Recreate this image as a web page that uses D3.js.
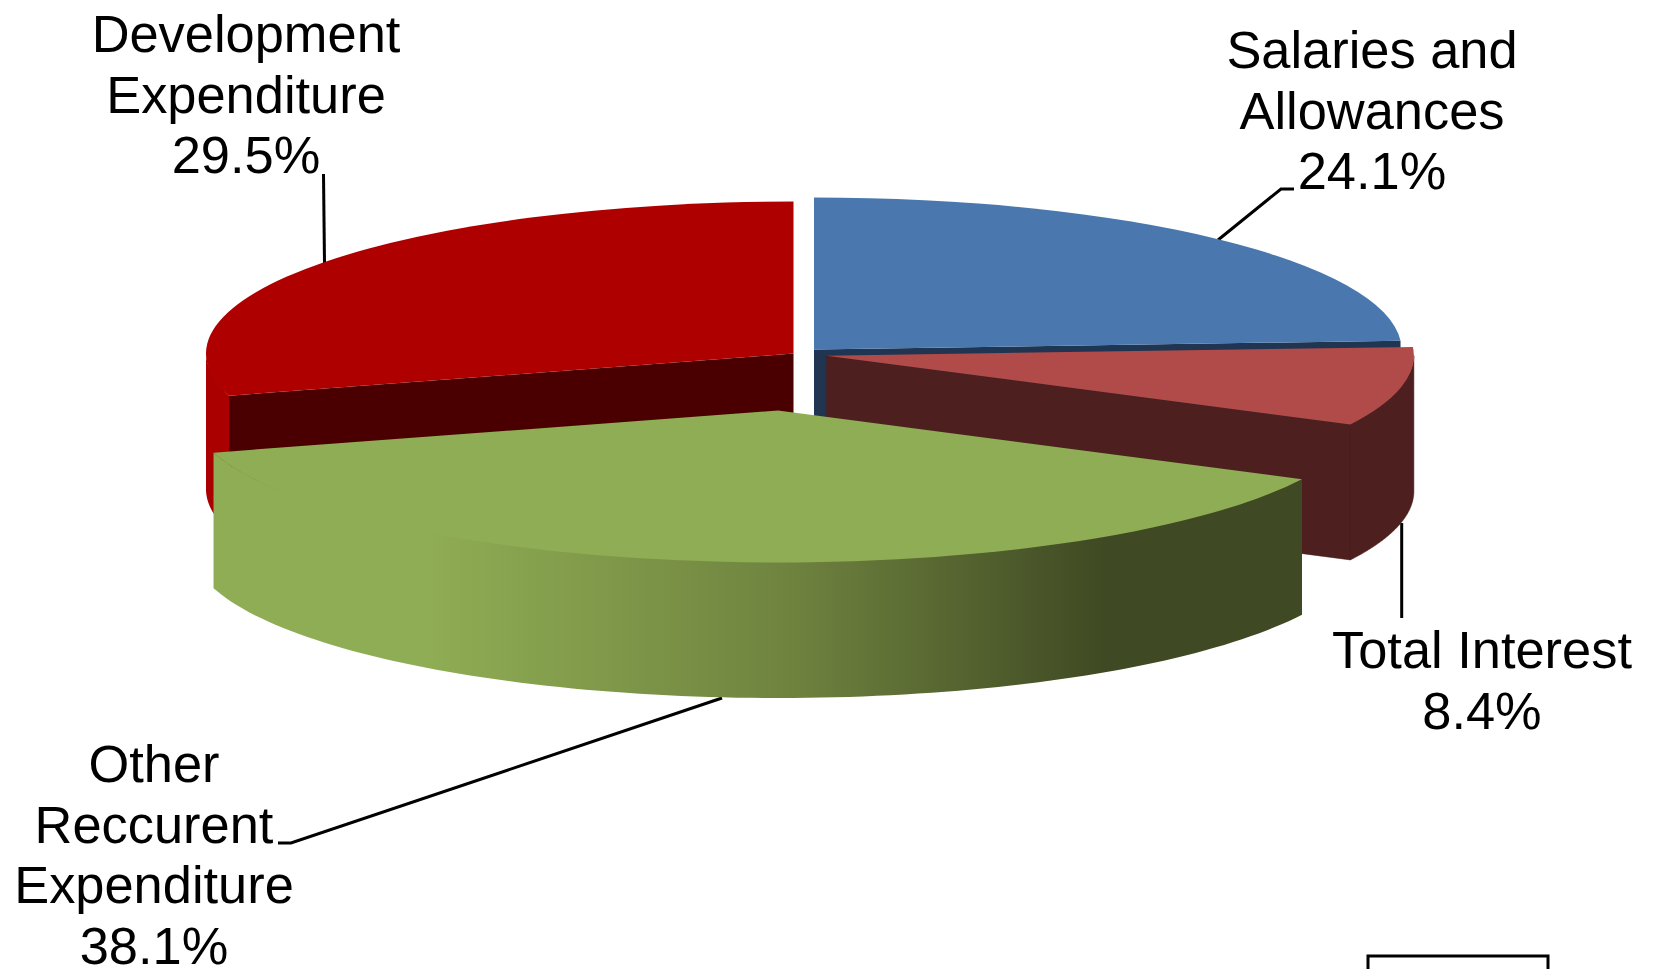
<!DOCTYPE html>
<html>
<head>
<meta charset="utf-8">
<script src="https://cdnjs.cloudflare.com/ajax/libs/d3/7.8.5/d3.min.js"></script>
<style>
  html, body { margin: 0; padding: 0; background: #fff; overflow: hidden; }
  svg { display: block; }
  text { font-family: "Liberation Sans", Arial, sans-serif; font-size: 52.4px; fill: #000; text-anchor: middle; }
</style>
</head>
<body>
<svg id="chart" width="1655" height="969"></svg>
<script>
// chart values, in the clockwise order of the pie
var categories = ["Salaries and Allowances", "Total Interest", "Other Reccurent Expenditure", "Development Expenditure"];
var shares = [24.1, 8.4, 38.1, 29.5];

// colours of the top faces, the cut faces and the outer walls
var topColors = ["#4a78ae", "#b14b49", "#8fad54", "#af0000"];
var cutColors = ["#1f3552", "#4d1f1f", "none", "#4a0000"];
var wallColors = ["#1f3552", "#4d1f1f", "url(#greenWall)", "#aa0000"];

// label lines, same order as the categories
var labelLines = [
    ["Salaries and", "Allowances", "24.1%"],
    ["Total Interest", "8.4%"],
    ["Other", "Reccurent", "Expenditure", "38.1%"],
    ["Development", "Expenditure", "29.5%"]
];

// layout: every slice has its own centre because the pie is exploded
var centers = [[814, 349.5], [826.4, 355.7], [778, 410.5], [793.5, 353.6]];
var labelPos = [[1372, 68], [1482, 668], [154, 782], [246, 52]];
var leaders = [
    [[1294, 189], [1281, 189], [1218, 240]],
    [[1401.7, 523], [1401.7, 618]],
    [[278, 843], [291, 843], [722, 698]],
    [[323.5, 174], [324.5, 263]]
];
var rx = 587.5, ry = 152, depth = 135.5;
var lineHeight = 60.7;

var svg = d3.select("#chart");

var grad = svg.append("defs").append("linearGradient")
    .attr("id", "greenWall")
    .attr("gradientUnits", "userSpaceOnUse")
    .attr("x1", 211).attr("x2", 1302)
    .attr("y1", 0).attr("y2", 0);
[[0, "#8fad54"], [0.2, "#8fad54"], [0.53, "#6f833f"], [0.82, "#3f4923"], [1, "#3f4923"]].forEach(function(s) {
    grad.append("stop").attr("offset", s[0]).attr("stop-color", s[1]);
});

var pie = d3.pie().sort(null);
var arcs = pie(shares);

var topArc = d3.arc().innerRadius(0).outerRadius(rx);
var line = d3.line();

// point on the rim of a slice for a pie angle
function rim(c, a, dy) {
    return [c[0] + rx * Math.sin(a), c[1] - ry * Math.cos(a) + dy];
}

function wallPath(c, a0, a1) {
    var steps = d3.range(0, 101);
    // upper edge tucked under the top face in the middle so no seam shows
    var upper = steps.map(function(i) {
        return rim(c, a0 + (a1 - a0) * i / 100, -2 * Math.sin(Math.PI * i / 100));
    });
    var lower = steps.slice().reverse().map(function(i) {
        return rim(c, a0 + (a1 - a0) * i / 100, depth);
    });
    return line(upper.concat(lower)) + "Z";
}

function cutPath(c, a) {
    var p = rim(c, a, 0);
    return line([c, p, [p[0], p[1] + depth], [c[0], c[1] + depth]]) + "Z";
}

// leader lines go under the pie
svg.selectAll(".leader")
    .data(leaders)
    .enter().append("path")
    .attr("class", "leader")
    .attr("d", function(d) { return line(d); })
    .attr("fill", "none")
    .attr("stroke", "#000")
    .attr("stroke-width", 3);

// back to front: development, salaries, interest, other
var drawOrder = [3, 0, 1, 2];
drawOrder.forEach(function(i) {
    var c = centers[i], d = arcs[i];
    var g = svg.append("g").attr("class", "slice");
    var a0 = d.startAngle, a1 = d.endAngle;

    if (i === 0) {
        // only the cut under the arc end and the left cut show
        g.append("path").attr("d", cutPath(c, a1) + cutPath(c, a0)).attr("fill", cutColors[i]);
    } else if (i === 1) {
        // wall and cut share a colour, stroke hides the joint
        g.append("path").attr("d", wallPath(c, Math.PI / 2, a1) + cutPath(c, a1)).attr("fill", wallColors[i])
            .attr("stroke", wallColors[i]).attr("stroke-width", 0.5);
    } else if (i === 2) {
        g.append("path").attr("d", wallPath(c, a0, a1)).attr("fill", wallColors[i]);
    } else {
        g.append("path").attr("d", wallPath(c, a0, Math.PI * 1.5)).attr("fill", wallColors[i]);
        g.append("path").attr("d", cutPath(c, a0)).attr("fill", cutColors[i]);
    }

    g.append("path")
        .attr("transform", "translate(" + c[0] + "," + c[1] + ") scale(1," + (ry / rx) + ")")
        .attr("d", topArc(d))
        .attr("fill", topColors[i]);
});

// labels
labelLines.forEach(function(lines, i) {
    var t = svg.append("text")
        .attr("x", labelPos[i][0])
        .attr("y", labelPos[i][1]);
    lines.forEach(function(s, j) {
        t.append("tspan")
            .attr("x", labelPos[i][0])
            .attr("y", labelPos[i][1] + j * lineHeight)
            .text(s);
    });
});

// box cut off by the bottom edge
svg.append("rect")
    .attr("x", 1368).attr("y", 956)
    .attr("width", 180).attr("height", 40)
    .attr("fill", "#fff")
    .attr("stroke", "#000")
    .attr("stroke-width", 3);
</script>
</body>
</html>
